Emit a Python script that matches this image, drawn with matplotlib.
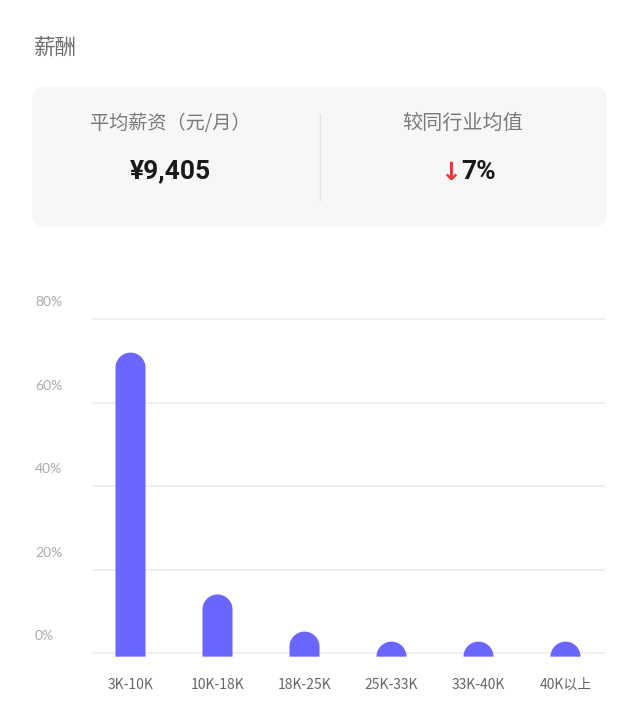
import matplotlib
matplotlib.use('Agg')
import matplotlib.pyplot as plt
from matplotlib.patches import FancyBboxPatch
from matplotlib.transforms import blended_transform_factory, ScaledTranslation
import numpy as np

plt.rcParams['font.family'] = ['Noto Sans CJK SC', 'DejaVu Sans']

# data
categories = ['3K-10K', '10K-18K', '18K-25K', '25K-33K', '33K-40K', '40K以上']
share = [72, 14.1, 5.2, 2.7, 2.7, 2.7]   # percent
y_ticks = [0, 20, 40, 60, 80]
y_labels = ['0%', '20%', '40%', '60%', '80%']
avg_salary = '¥9,405'
vs_industry = '7%'

BAR = '#6B66FF'
W, H = 640, 710

fig = plt.figure(figsize=(W / 100, H / 100), dpi=100)

# background layer in pixel coords (for the title and the summary card)
bg = fig.add_axes([0, 0, 1, 1])
bg.set_xlim(0, W)
bg.set_ylim(H, 0)
bg.axis('off')

bg.text(34, 48, '薪酬', fontsize=15.5, color='#6f6f6f', va='center', ha='left')

card = FancyBboxPatch((32, 87), 575, 140, boxstyle='round,pad=0,rounding_size=13',
                      fc='#f7f7f7', ec='none')
bg.add_patch(card)
bg.plot([320, 320], [114, 200], color='#e2e2e2', lw=1)

bg.text(170, 123, '平均薪资（元/月）', fontsize=13.8, color='#7a7a7a', ha='center', va='center')
bg.text(170, 171, avg_salary, fontsize=19, fontweight='bold', family='Roboto',
        color='#1a1a1a', ha='center', va='center')
bg.text(463, 123, '较同行业均值', fontsize=14.5, color='#7a7a7a', ha='center', va='center')
bg.text(461, 173, '↓', fontsize=18, fontweight='bold', family='DejaVu Sans',
        color='#e53935', ha='right', va='center')
bg.text(461, 172, vs_industry, fontsize=19, fontweight='bold', family='Roboto',
        color='#1a1a1a', ha='left', va='center')

# bar chart
ax = fig.add_axes([92 / W, (H - 660) / H, (605 - 92) / W, 360 / H])
x = np.arange(len(categories))
ax.set_xlim(-0.4425, 5.454)
ax.set_ylim(-1.6, 84.6)
for s in ax.spines.values():
    s.set_visible(False)
ax.set_yticks(y_ticks)
ax.yaxis.grid(True, color='#ececec', lw=1.2)
ax.set_axisbelow(True)
ax.tick_params(axis='y', length=0, labelleft=False)
ax.tick_params(axis='x', length=0, pad=13, labelsize=10, labelcolor='#666666')
ax.set_xticks(x)
ax.set_xticklabels(categories)

# y labels sit above their gridlines, left aligned
tr = blended_transform_factory(fig.transFigure, ax.transData) + \
    ScaledTranslation(0, 0.17, fig.dpi_scale_trans)
for v, lab in zip(y_ticks, y_labels):
    ax.text(35 / W, v, lab, transform=tr, fontsize=10, family='Lato',
            color='#aaaaaa', ha='left', va='center')

# rounded-top bars, each one filled outline
width = 0.345
base = -0.8
p0 = ax.transData.transform((0, 0))
p1 = ax.transData.transform((1, 1))
ry = (width / 2) * (p1[0] - p0[0]) / (p1[1] - p0[1])
t = np.linspace(0, np.pi, 60)
for xi, v in zip(x, share):
    neck = max(v - ry, base)
    xs = np.concatenate([[xi + width / 2], xi + width / 2 * np.cos(t), [xi - width / 2]])
    ys = np.concatenate([[base], neck + ry * np.sin(t), [base]])
    ax.fill(xs, ys, color=BAR, lw=0, zorder=3)

fig.savefig('out.png', dpi=100)
